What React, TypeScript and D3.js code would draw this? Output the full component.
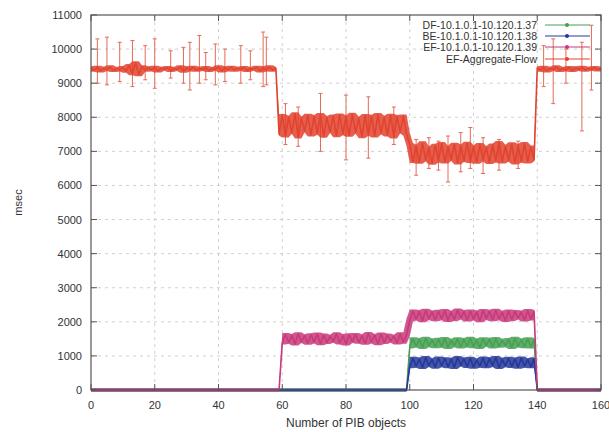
import React, { useEffect, useRef } from "react";
import * as d3 from "d3";

const xTicks = [0, 20, 40, 60, 80, 100, 120, 140, 160];
const yTicks = [0, 1000, 2000, 3000, 4000, 5000, 6000, 7000, 8000, 9000, 10000, 11000];
const legendLabels = [
  "DF-10.1.0.1-10.120.1.37",
  "BE-10.1.0.1-10.120.1.38",
  "EF-10.1.0.1-10.120.1.39",
  "EF-Aggregate-Flow",
];
const seriesColors = ["#45a052", "#25389a", "#c8397a", "#e2432f"];

// one value per PIB-object count, x = 0..160
const greenValues = [
  0, 0, 0, 0, 0, 0, 0, 0, 0, 0, 0, 0, 0, 0, 0, 0, 0, 0, 0, 0,
  0, 0, 0, 0, 0, 0, 0, 0, 0, 0, 0, 0, 0, 0, 0, 0, 0, 0, 0, 0,
  0, 0, 0, 0, 0, 0, 0, 0, 0, 0, 0, 0, 0, 0, 0, 0, 0, 0, 0, 0,
  0, 0, 0, 0, 0, 0, 0, 0, 0, 0, 0, 0, 0, 0, 0, 0, 0, 0, 0, 0,
  0, 0, 0, 0, 0, 0, 0, 0, 0, 0, 0, 0, 0, 0, 0, 0, 0, 0, 0, 0,
  1260, 1500, 1290, 1480, 1250, 1520, 1300, 1470, 1270, 1490,
  1280, 1510, 1250, 1460, 1300, 1500, 1260, 1480, 1290, 1520,
  1270, 1470, 1250, 1500, 1310, 1490, 1260, 1510, 1280, 1460,
  1300, 1480, 1250, 1520, 1290, 1470, 1270, 1500, 1260, 1490,
  0, 0, 0, 0, 0, 0, 0, 0, 0, 0, 0, 0, 0, 0, 0, 0, 0, 0, 0, 0, 0,
];
const blueValues = [
  0, 0, 0, 0, 0, 0, 0, 0, 0, 0, 0, 0, 0, 0, 0, 0, 0, 0, 0, 0,
  0, 0, 0, 0, 0, 0, 0, 0, 0, 0, 0, 0, 0, 0, 0, 0, 0, 0, 0, 0,
  0, 0, 0, 0, 0, 0, 0, 0, 0, 0, 0, 0, 0, 0, 0, 0, 0, 0, 0, 0,
  0, 0, 0, 0, 0, 0, 0, 0, 0, 0, 0, 0, 0, 0, 0, 0, 0, 0, 0, 0,
  0, 0, 0, 0, 0, 0, 0, 0, 0, 0, 0, 0, 0, 0, 0, 0, 0, 0, 0, 0,
  680, 930, 700, 910, 660, 950, 720, 890, 670, 940,
  710, 920, 680, 900, 660, 950, 730, 910, 690, 930,
  670, 880, 700, 940, 680, 920, 720, 950, 660, 900,
  710, 930, 690, 910, 670, 940, 700, 890, 680, 920,
  0, 0, 0, 0, 0, 0, 0, 0, 0, 0, 0, 0, 0, 0, 0, 0, 0, 0, 0, 0, 0,
];
const pinkValues = [
  0, 0, 0, 0, 0, 0, 0, 0, 0, 0, 0, 0, 0, 0, 0, 0, 0, 0, 0, 0,
  0, 0, 0, 0, 0, 0, 0, 0, 0, 0, 0, 0, 0, 0, 0, 0, 0, 0, 0, 0,
  0, 0, 0, 0, 0, 0, 0, 0, 0, 0, 0, 0, 0, 0, 0, 0, 0, 0, 0, 0,
  1380, 1630, 1400, 1600, 1350, 1650, 1420, 1590, 1370, 1620,
  1410, 1640, 1360, 1610, 1390, 1580, 1430, 1650, 1380, 1600,
  1350, 1620, 1420, 1630, 1400, 1590, 1370, 1660, 1410, 1600,
  1360, 1640, 1390, 1610, 1430, 1580, 1380, 1650, 1400, 1620,
  2050, 2320, 2080, 2300, 2030, 2340, 2100, 2290, 2060, 2310,
  2090, 2330, 2040, 2280, 2070, 2350, 2110, 2300, 2050, 2320,
  2080, 2290, 2030, 2330, 2100, 2310, 2060, 2340, 2090, 2280,
  2040, 2320, 2070, 2300, 2110, 2290, 2050, 2330, 2080, 2310,
  0, 0, 0, 0, 0, 0, 0, 0, 0, 0, 0, 0, 0, 0, 0, 0, 0, 0, 0, 0, 0,
];
const redValues = [
  9450, 9380, 9470, 9360, 9440, 9400, 9480, 9370, 9430, 9390,
  9460, 9350, 9520, 9280, 9600, 9250, 9480, 9380, 9450, 9390,
  9470, 9360, 9440, 9410, 9460, 9370, 9430, 9400, 9480, 9350,
  9450, 9390, 9470, 9380, 9440, 9400, 9460, 9370, 9430, 9410,
  9480, 9360, 9450, 9390, 9470, 9380, 9440, 9400, 9460, 9370,
  9430, 9410, 9470, 9360, 9450, 9390, 9480, 9380, 9440,
  7500, 8050, 7450, 8000, 7550, 8100, 7420, 7980, 7600, 8060,
  7480, 8020, 7530, 8080, 7440, 7990, 7580, 8040, 7460, 8070,
  7520, 8010, 7470, 8090, 7560, 7970, 7430, 8050, 7500, 8030,
  7450, 8080, 7540, 8000, 7480, 8060, 7420, 8020, 7570, 8040,
  7500,
  7200, 6700, 7150, 6680, 7250, 6750, 7100, 6650, 7180, 6720,
  7230, 6690, 7120, 6760, 7210, 6660, 7160, 6730, 7240, 6700,
  7140, 6680, 7200, 6750, 7110, 6670, 7190, 6720, 7260, 6690,
  7150, 6740, 7220, 6660, 7170, 6710, 7230, 6690, 7130, 6750,
  9450, 9380, 9470, 9360, 9440, 9400, 9480, 9370, 9430, 9390,
  9460, 9370, 9450, 9400, 9470, 9380, 9440, 9410, 9460, 9390,
  9440,
];

// error bars on the aggregate flow
const errX = [2, 5, 9, 13, 17, 20, 25, 29, 31, 34, 36, 39, 42, 47, 50, 54, 55,
  61, 65, 72, 80, 87, 95,
  102, 106, 109, 112, 116, 119, 123, 128, 134,
  142, 145, 149, 154, 157];
const errHigh = [10300, 10350, 10200, 10250, 10100, 10300, 9950, 10050, 10200, 10400, 9900, 10150, 10000, 10100, 9950, 10500, 10350,
  8400, 8300, 8700, 8650, 8600, 8300,
  7350, 7400, 7300, 7450, 7550, 7700, 7400, 7350, 7300,
  10100, 10300, 10000, 10200, 10700];
const errLow = [9000, 8950, 9050, 8900, 9100, 8850, 9150, 9000, 8800, 9000, 9100, 8950, 9050, 9000, 9100, 8900, 8950,
  7200, 7150, 7000, 6750, 6800, 7200,
  6300, 6500, 6450, 6100, 6400, 6500, 6350, 6450, 6500,
  8900, 8400, 9000, 7600, 8800];

const W = 609, H = 432;
const M = { left: 91, right: 601, top: 15, bottom: 390 };

function envelope(vals: number[]) {
  const near = (a: number, b: number) => Math.abs(a - b) < 700 && Math.abs(a - b) <= 0.5 * Math.max(a, b);
  return vals.map((v, i) => {
    const nb = [vals[i - 1], v, vals[i + 1]].filter((w) => w !== undefined && near(v, w as number)) as number[];
    return { i, lo: Math.min(...nb), hi: Math.max(...nb) };
  });
}

export default function App() {
  const ref = useRef<SVGSVGElement>(null);
  useEffect(() => {
    const svg = d3.select(ref.current);
    svg.selectAll("*").remove();
    const x = d3.scaleLinear().domain([0, 160]).range([M.left, M.right]);
    const y = d3.scaleLinear().domain([0, 11000]).range([M.bottom, M.top]);
    const font = "'Liberation Sans', Arial, sans-serif";

    // grid
    const g = svg.append("g");
    xTicks.slice(1, -1).forEach((t) => {
      g.append("line").attr("x1", x(t)).attr("x2", x(t)).attr("y1", M.top).attr("y2", M.bottom)
        .attr("stroke", "#c4c4c4").attr("stroke-width", 0.8).attr("stroke-dasharray", "3,4");
    });
    yTicks.slice(1, -1).forEach((t) => {
      g.append("line").attr("x1", M.left).attr("x2", M.right).attr("y1", y(t)).attr("y2", y(t))
        .attr("stroke", "#c4c4c4").attr("stroke-width", 0.8).attr("stroke-dasharray", "3,4");
    });

    const line = d3.line<number>().x((_, i) => x(i)).y((d) => y(d));
    const area = d3.area<{ i: number; lo: number; hi: number }>()
      .x((d) => x(d.i)).y0((d) => y(d.lo) + 1.5).y1((d) => y(d.hi) - 1.5);

    const drawSeries = (vals: number[], color: string) => {
      svg.append("path").attr("d", area(envelope(vals)) as string).attr("fill", color).attr("opacity", 0.85);
      svg.append("path").attr("d", line(vals) as string).attr("fill", "none")
        .attr("stroke", color).attr("stroke-width", 1.6).attr("stroke-linejoin", "round");
    };

    drawSeries(greenValues, seriesColors[0]);
    drawSeries(blueValues, seriesColors[1]);
    drawSeries(pinkValues, seriesColors[2]);

    // red error bars
    const eb = svg.append("g").attr("stroke", "#e56a58").attr("stroke-width", 1);
    errX.forEach((xv, i) => {
      eb.append("line").attr("x1", x(xv)).attr("x2", x(xv)).attr("y1", y(errLow[i])).attr("y2", y(errHigh[i]));
      eb.append("line").attr("x1", x(xv) - 2).attr("x2", x(xv) + 2).attr("y1", y(errLow[i])).attr("y2", y(errLow[i]));
      eb.append("line").attr("x1", x(xv) - 2).attr("x2", x(xv) + 2).attr("y1", y(errHigh[i])).attr("y2", y(errHigh[i]));
    });
    drawSeries(redValues, seriesColors[3]);

    // border
    svg.append("rect").attr("x", M.left).attr("y", M.top).attr("width", M.right - M.left)
      .attr("height", M.bottom - M.top).attr("fill", "none").attr("stroke", "#555").attr("stroke-width", 1.2);

    // ticks
    const tk = svg.append("g").attr("stroke", "#555").attr("stroke-width", 1);
    xTicks.forEach((t) => {
      tk.append("line").attr("x1", x(t)).attr("x2", x(t)).attr("y1", M.bottom).attr("y2", M.bottom - 6);
      tk.append("line").attr("x1", x(t)).attr("x2", x(t)).attr("y1", M.top).attr("y2", M.top + 6);
    });
    yTicks.forEach((t) => {
      tk.append("line").attr("x1", M.left).attr("x2", M.left + 6).attr("y1", y(t)).attr("y2", y(t));
      tk.append("line").attr("x1", M.right).attr("x2", M.right - 6).attr("y1", y(t)).attr("y2", y(t));
    });

    // tick labels
    xTicks.forEach((t) => {
      svg.append("text").attr("x", x(t)).attr("y", 409).attr("text-anchor", "middle")
        .attr("font-family", font).attr("font-size", 11).attr("fill", "#333").text(String(t));
    });
    yTicks.forEach((t) => {
      svg.append("text").attr("x", 82).attr("y", y(t) + 4).attr("text-anchor", "end")
        .attr("font-family", font).attr("font-size", 11).attr("fill", "#333").text(String(t));
    });
    svg.append("text").attr("x", (M.left + M.right) / 2).attr("y", 427).attr("text-anchor", "middle")
      .attr("font-family", font).attr("font-size", 12).attr("fill", "#333").text("Number of PIB objects");
    svg.append("text").attr("transform", `translate(22,${(M.top + M.bottom) / 2}) rotate(-90)`)
      .attr("text-anchor", "middle").attr("font-family", font).attr("font-size", 11).attr("fill", "#333").text("msec");

    // legend
    const rows = [25, 36, 47, 59];
    legendLabels.forEach((lab, i) => {
      const ly = rows[i];
      svg.append("text").attr("x", 537).attr("y", ly + 4).attr("text-anchor", "end")
        .attr("font-family", font).attr("font-size", 10.5).attr("fill", "#333").text(lab);
      svg.append("line").attr("x1", 545).attr("x2", 590).attr("y1", ly).attr("y2", ly)
        .attr("stroke", seriesColors[i]).attr("stroke-width", 1);
      svg.append("circle").attr("cx", 567).attr("cy", ly).attr("r", 2).attr("fill", seriesColors[i]);
    });
  }, []);
  return (
    <svg ref={ref} width={W} height={H}
      style={{ position: "absolute", left: 0, top: 0, background: "#fff" }} />
  );
}
